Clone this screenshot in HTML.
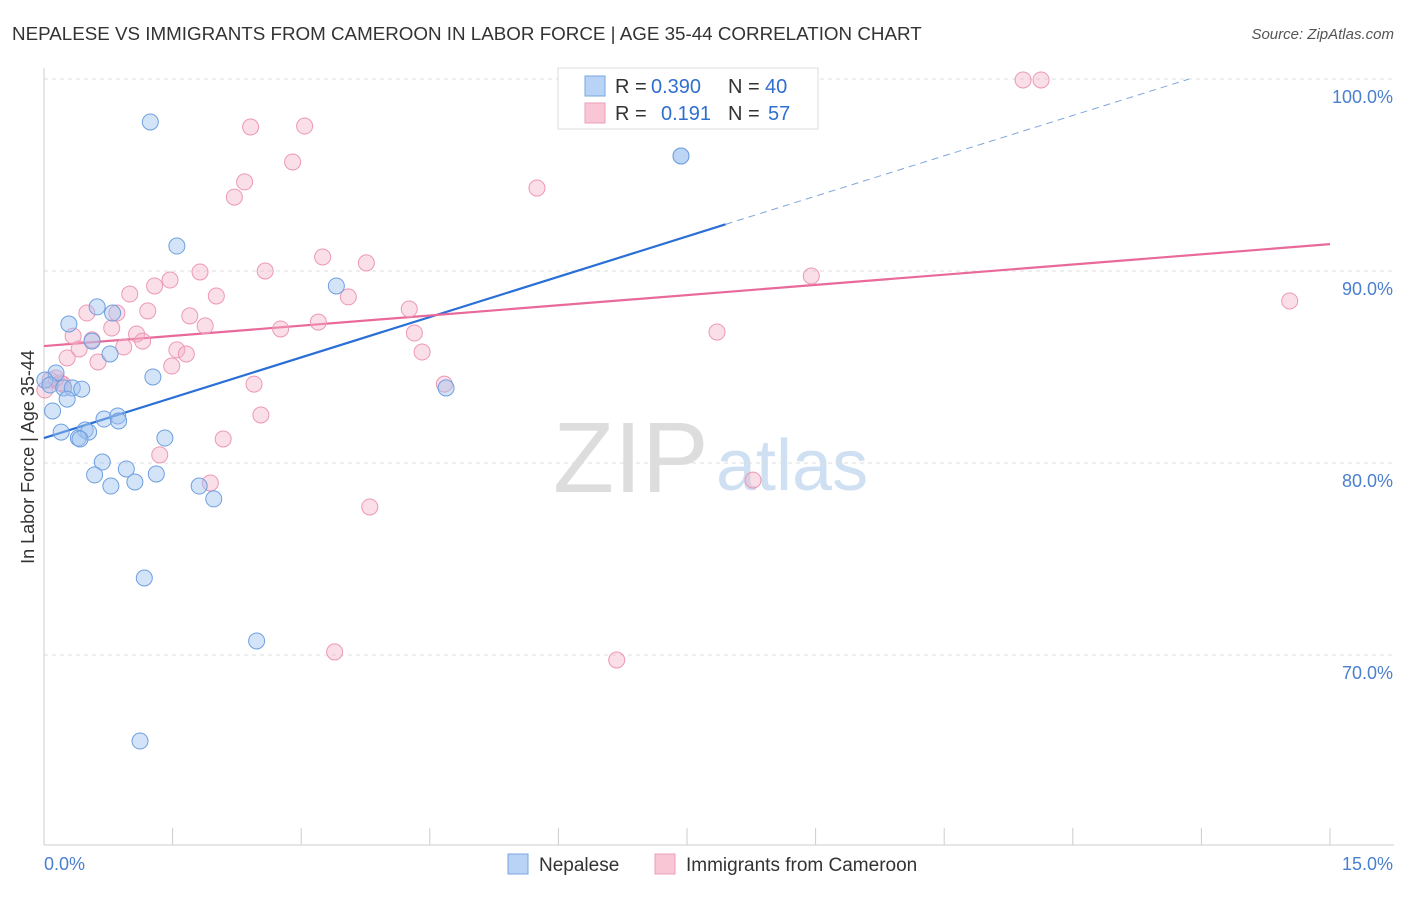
<!DOCTYPE html>
<html><head><meta charset="utf-8"><style>
body{margin:0;background:#fff;font-family:"Liberation Sans",sans-serif}
svg text{font-family:"Liberation Sans",sans-serif}
</style></head><body>
<svg id="chart" width="1406" height="892">
<text x="12" y="40" font-size="18.8" fill="#333">NEPALESE VS IMMIGRANTS FROM CAMEROON IN LABOR FORCE | AGE 35-44 CORRELATION CHART</text>
<text x="1394" y="39" font-size="15" fill="#555" font-style="italic" text-anchor="end">Source: ZipAtlas.com</text>
<g><text x="553" y="492" font-size="100" fill="#ddd" font-family="Liberation Serif">ZIP</text><text x="716" y="490" font-size="72" fill="#cfe0f3">atlas</text></g>
<g id="grid"></g><g id="axes"></g><g id="lines"></g><g id="points"></g>
<text transform="translate(34,457) rotate(-90)" font-size="18" fill="#333" text-anchor="middle">In Labor Force | Age 35-44</text>
<g>
<rect x="558" y="68" width="260" height="61" fill="#fff" stroke="#ddd"/>
<rect x="585" y="76" width="20" height="20" fill="#b8d3f5" stroke="#7aa7e0"/>
<rect x="585" y="103" width="20" height="20" fill="#f9c6d5" stroke="#ee9fb9"/>
<text x="615" y="93" font-size="20" fill="#333">R =</text>
<text x="651" y="93" font-size="20" fill="#2f6fd0">0.390</text>
<text x="728" y="93" font-size="20" fill="#333">N =</text>
<text x="765" y="93" font-size="20" fill="#2f6fd0">40</text>
<text x="615" y="120" font-size="20" fill="#333">R =</text>
<text x="661" y="120" font-size="20" fill="#2f6fd0">0.191</text>
<text x="728" y="120" font-size="20" fill="#333">N =</text>
<text x="768" y="120" font-size="20" fill="#2f6fd0">57</text>
</g>
<g>
<rect x="508" y="854" width="20" height="20" fill="#b8d3f5" stroke="#7aa7e0"/>
<text x="539" y="871" font-size="19" fill="#333">Nepalese</text>
<rect x="655" y="854" width="20" height="20" fill="#f9c6d5" stroke="#ee9fb9"/>
<text x="686" y="871" font-size="19" fill="#333">Immigrants from Cameroon</text>
</g>
</svg>
<script>
const yTicks=[100,90,80,70];
const xTickLabels=["0.0%","15.0%"];
const blueX=[1.24,1.55,7.43,7.43,3.41,0.62,0.80,0.29,0.56,0.77,1.27,0.14,0.01,0.07,0.23,0.33,0.44,0.27,0.10,0.70,0.86,0.87,0.20,0.48,0.52,0.40,0.42,1.41,4.69,0.68,0.96,0.59,1.31,0.78,1.06,1.81,1.98,1.17,2.48,1.12];
const blueY=[97.76,91.30,95.99,95.99,89.22,88.13,87.81,87.24,86.35,85.68,84.48,84.69,84.32,84.06,83.91,83.91,83.85,83.33,82.71,82.29,82.45,82.19,81.61,81.72,81.61,81.30,81.25,81.30,83.91,80.05,79.69,79.38,79.43,78.80,79.01,78.80,78.13,74.01,70.73,65.52];
const pinkX=[11.42,11.63,2.41,3.04,2.90,2.34,2.22,5.75,3.25,3.76,2.58,1.82,1.47,1.29,1.00,2.01,3.55,8.95,14.53,4.26,1.21,0.85,0.50,1.70,1.88,3.20,2.76,0.79,0.34,1.08,1.15,0.56,4.32,7.85,0.41,0.93,1.55,1.66,4.41,0.27,0.63,1.49,0.07,0.19,2.45,4.67,2.53,2.09,1.35,1.94,8.27,3.80,3.39,6.68,0.14,0.22,0.01];
const pinkY=[99.95,99.95,97.50,97.55,95.68,94.64,93.85,94.32,90.73,90.42,90.00,89.95,89.53,89.22,88.80,88.70,88.65,89.74,88.44,88.02,87.92,87.81,87.81,87.66,87.14,87.34,86.98,87.03,86.61,86.72,86.35,86.41,86.77,86.82,85.94,86.04,85.89,85.68,85.78,85.47,85.26,85.05,84.32,84.17,84.11,84.11,82.50,81.25,80.42,78.96,79.11,77.71,70.16,69.74,84.43,84.11,83.80];
const blueTrend=[81.30,1.40];
const pinkTrend=[86.09,0.354];
const NS="http://www.w3.org/2000/svg";
const X=v=>44+v*85.733, Y=v=>79+(100-v)*19.2;
function mk(t,a,p){const e=document.createElementNS(NS,t);for(const k in a)e.setAttribute(k,a[k]);p.appendChild(e);return e;}
const grid=document.getElementById('grid'),axes=document.getElementById('axes'),lines=document.getElementById('lines'),pts=document.getElementById('points');
yTicks.forEach(t=>{const l=mk('line',{x1:44,x2:1394,y1:Y(t),y2:Y(t),stroke:'#ddd','stroke-dasharray':'4,4'},grid);


const tx=mk('text',{x:1393,y:Y(t)+24,'font-size':18,fill:'#4a7fd0','text-anchor':'end'},axes);tx.textContent=t.toFixed(1)+'%';

});
const ax=mk('line',{x1:44,x2:1394,y1:845,y2:845,stroke:'#ccc'},axes);


const ay=mk('line',{x1:44,x2:44,y1:68,y2:845,stroke:'#ccc'},axes);


for(let i=0;i<=10;i++){const t=mk('line',{x1:X(i*1.5),x2:X(i*1.5),y1:828,y2:845,stroke:'#ccc'},axes);

}
[[0,'start'],[15,'end']].forEach((d,i)=>{const t=mk('text',{x:d[0]?1393:44,y:870,'font-size':18,fill:'#4a7fd0','text-anchor':d[1]},axes);t.textContent=xTickLabels[i];

});
const bEnd=(100-blueTrend[0])/blueTrend[1];
let l1=mk('line',{x1:X(0),y1:Y(blueTrend[0]),x2:X(7.95),y2:Y(blueTrend[0]+blueTrend[1]*7.95),stroke:'#2a6fd6','stroke-width':2.2},lines);


let l2=mk('line',{x1:X(7.95),y1:Y(blueTrend[0]+blueTrend[1]*7.95),x2:X(bEnd),y2:Y(100),stroke:'#7fa6dc','stroke-width':1,'stroke-dasharray':'7,5'},lines);


let l3=mk('line',{x1:X(0),y1:Y(pinkTrend[0]),x2:X(15),y2:Y(pinkTrend[0]+pinkTrend[1]*15),stroke:'#e8699a','stroke-width':2.2},lines);


pinkX.forEach((x,i)=>{const c=mk('circle',{cx:X(x),cy:Y(pinkY[i]),r:8,fill:'rgba(245,175,198,0.4)',stroke:'#ec98b4','stroke-width':1},pts);

});
blueX.forEach((x,i)=>{const c=mk('circle',{cx:X(x),cy:Y(blueY[i]),r:8,fill:'rgba(160,195,240,0.45)',stroke:'#6e9fe0','stroke-width':1},pts);

});
</script>
</body></html>
